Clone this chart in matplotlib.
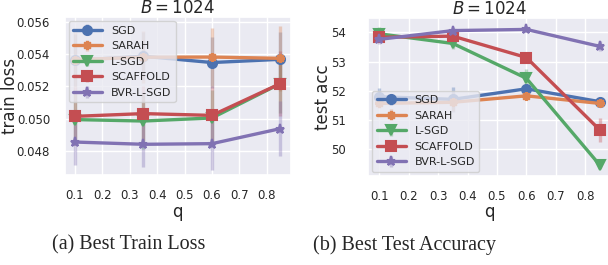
import matplotlib
matplotlib.use("Agg")
import matplotlib.pyplot as plt
import seaborn as sns

sns.set_theme(style="darkgrid")
plt.rcParams['font.family'] = ['DejaVu Sans']

q = [0.1, 0.35, 0.6, 0.85]
methods = ["SGD", "SARAH", "L-SGD", "SCAFFOLD", "BVR-L-SGD"]
markers = ["o", (8, 2, 0), "v", "s", "*"]
colors = sns.color_palette()[:5]

# train loss (mean, error)
loss_mean = {
    "SGD": [0.05361, 0.05386, 0.05347, 0.05367],
    "SARAH": [0.05365, 0.05380, 0.05381, 0.05373],
    "L-SGD": [0.04994, 0.04985, 0.05004, 0.05217],
    "SCAFFOLD": [0.05014, 0.05031, 0.05020, 0.05217],
    "BVR-L-SGD": [0.04855, 0.04841, 0.04845, 0.04938],
}
loss_err = {
    "SGD": [0.0016, 0.0015, 0.0016, 0.0017],
    "SARAH": [0.0017, 0.0016, 0.0018, 0.0020],
    "L-SGD": [0.0016, 0.0017, 0.0017, 0.0018],
    "SCAFFOLD": [0.0018, 0.0017, 0.0018, 0.0020],
    "BVR-L-SGD": [0.0014, 0.0014, 0.0016, 0.0017],
}

# test accuracy (mean, error)
acc_mean = {
    "SGD": [51.80, 51.71, 52.07, 51.63],
    "SARAH": [51.57, 51.61, 51.83, 51.57],
    "L-SGD": [53.95, 53.62, 52.43, 49.46],
    "SCAFFOLD": [53.83, 53.87, 53.14, 50.66],
    "BVR-L-SGD": [53.76, 54.06, 54.10, 53.52],
}
acc_err = {
    "SGD": [0.30, 0.43, 0.15, 0.10],
    "SARAH": [0.15, 0.30, 0.10, 0.10],
    "L-SGD": [0.22, 0.20, 0.30, 0.08],
    "SCAFFOLD": [0.15, 0.15, 0.10, 0.40],
    "BVR-L-SGD": [0.15, 0.12, 0.10, 0.17],
}

fig = plt.figure(figsize=(6.08, 2.65), dpi=100)
ax1 = fig.add_axes([64.7 / 608, 1 - 175 / 265, 226 / 608, 157.7 / 265])
ax2 = fig.add_axes([368.3 / 608, 1 - 175.7 / 265, 242.6 / 608, 157.4 / 265])


def draw(ax, means, errs):
    for name, m, c in zip(methods, markers, colors):
        ax.errorbar(q, means[name], yerr=errs[name], color=c, lw=2.4,
                    marker=m, ms=6.5, mew=1.5, label=name)
    # translucent error bars
    for coll in ax.collections:
        coll.set_alpha(0.35)
    ax.set_xlim(0.0625, 0.8875)
    ax.set_xticks([0.1, 0.2, 0.3, 0.4, 0.5, 0.6, 0.7, 0.8])
    ax.tick_params(labelsize=8.5)
    ax.tick_params(axis="x", pad=4)
    ax.set_xlabel("q", fontsize=12)
    ax.xaxis.set_label_coords(0.5, -0.175)
    ax.set_title("$B = 1024$", fontsize=12, pad=3)


draw(ax1, loss_mean, loss_err)
ax1.set_ylim(0.04651, 0.05627)
ax1.set_yticks([0.048, 0.050, 0.052, 0.054, 0.056])
ax1.tick_params(axis="y", pad=4.5)
ax1.set_ylabel("train loss", fontsize=12)
ax1.yaxis.set_label_coords(-0.2, 0.5)
ax1.legend(loc="upper left", fontsize=8, handlelength=2.6,
           borderaxespad=0.35, labelspacing=0.5)

draw(ax2, acc_mean, acc_err)
ax2.set_ylim(49.1, 54.48)
ax2.set_yticks([50, 51, 52, 53, 54])
ax2.tick_params(axis="y", pad=10)
ax2.set_ylabel("test acc", fontsize=12)
ax2.yaxis.set_label_coords(-0.15, 0.5)
ax2.legend(loc="lower left", fontsize=8, handlelength=2.6,
           borderaxespad=0.35, labelspacing=0.5)

fig.text(129 / 608, 1 - 245 / 265, "(a) Best Train Loss", ha="center",
         va="center", family="Liberation Serif", fontsize=14.5)
fig.text(405 / 608, 1 - 245 / 265, "(b) Best Test Accuracy", ha="center",
         va="center", family="Liberation Serif", fontsize=14.5)

fig.savefig("out.png", dpi=100, facecolor="white")
